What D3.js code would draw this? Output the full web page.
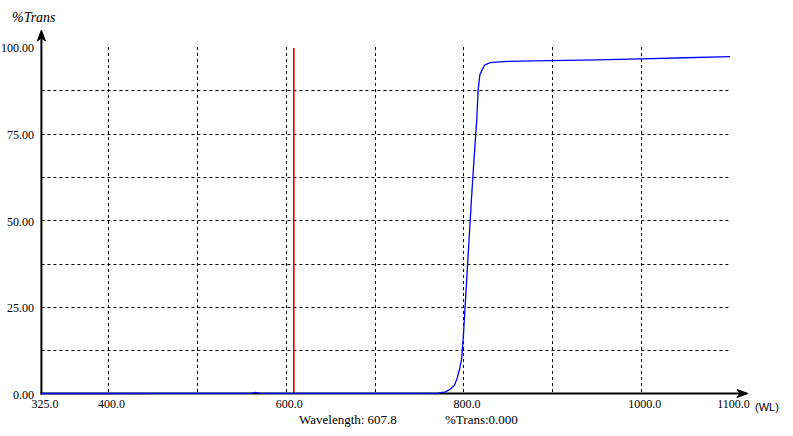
<!DOCTYPE html>
<html>
<head>
<meta charset="utf-8">
<script src="https://cdn.jsdelivr.net/npm/d3@7"></script>
<style>
  body { margin: 0; background: #fff; }
  svg { display: block; }
</style>
</head>
<body>
<script>
// spectrum, wavelength (nm) vs %Trans
var wavelengths = [325, 400, 460, 500, 560, 566, 572, 650, 700, 760, 771, 780, 785, 790, 793, 796, 798, 800, 803, 806, 809, 812, 815, 816.5, 818.5, 821, 824, 830, 845, 880, 950, 1000, 1050, 1100];
var transValues = [0.0, 0.0, 0.05, 0.05, 0.05, 0.3, 0.05, 0.05, 0.05, 0.05, 0.1, 0.5, 1.2, 2.4, 4.5, 7.4, 10, 17, 30, 43, 56, 68, 79, 87.5, 92, 93.4, 94.8, 95.5, 95.8, 96.0, 96.3, 96.6, 96.9, 97.2];

var xTickLabels = [325, 400, 600, 800, 1000, 1100];
var xGrid = [400, 500, 600, 700, 800, 900, 1000];
var yTickLabels = [0, 25, 50, 75, 100];
var yGrid = [12.5, 25, 37.5, 50, 62.5, 75, 87.5];
var cursorWL = 607.8;
var cursorTrans = 0.000;

var svgWidth = 793;
var svgHeight = 436;
var svg = d3.select("body").append("svg")
    .attr("width", svgWidth).attr("height", svgHeight);

var x = d3.scaleLinear().domain([325, 1100]).range([41.4, 730]);
var y = d3.scaleLinear().domain([0, 100]).range([393.5, 47]);

var serif = "'Liberation Serif', 'Times New Roman', serif";

// dashed grid
svg.append("g").selectAll("line.v").data(xGrid).enter()
    .append("line").attr("class", "v")
    .attr("x1", function (d) { return Math.round(x(d)) + 0.5; })
    .attr("x2", function (d) { return Math.round(x(d)) + 0.5; })
    .attr("y1", y(100)).attr("y2", y(0))
    .attr("stroke", "#000").attr("stroke-width", 1)
    .attr("stroke-dasharray", "3,3");

svg.append("g").selectAll("line.h").data(yGrid).enter()
    .append("line").attr("class", "h")
    .attr("x1", x(325)).attr("x2", x(1100))
    .attr("y1", function (d) { return Math.round(y(d)) + 0.5; })
    .attr("y2", function (d) { return Math.round(y(d)) + 0.5; })
    .attr("stroke", "#000").attr("stroke-width", 1)
    .attr("stroke-dasharray", "3,3");

// cursor line
svg.append("rect")
    .attr("x", Math.round(x(cursorWL))).attr("width", 1.6)
    .attr("y", y(100) + 1).attr("height", y(0) - y(100) - 1)
    .attr("fill", "#ff0000");

// axes lines with arrows
var x0 = x(325), yb = y(0);
svg.append("line").attr("x1", x0).attr("x2", x0).attr("y1", yb + 1).attr("y2", 33)
    .attr("stroke", "#000").attr("stroke-width", 2);
svg.append("path")
    .attr("d", "M" + x0 + ",30 L" + (x0 - 4) + ",41 L" + x0 + ",38 L" + (x0 + 4) + ",41 Z")
    .attr("fill", "#000").attr("stroke", "#000").attr("stroke-width", 1);
svg.append("line").attr("x1", x0 - 1).attr("x2", 745).attr("y1", yb).attr("y2", yb)
    .attr("stroke", "#000").attr("stroke-width", 2);
svg.append("path")
    .attr("d", "M748," + yb + " L737," + (yb - 4) + " L740," + yb + " L737," + (yb + 4) + " Z")
    .attr("fill", "#000").attr("stroke", "#000").attr("stroke-width", 1);

// curve
var line = d3.line()
    .x(function (d, i) { return x(wavelengths[i]); })
    .y(function (d) { return y(d); });
svg.append("path").datum(transValues)
    .attr("d", line)
    .attr("fill", "none").attr("stroke", "#0000ff").attr("stroke-width", 1.3);

// tick labels
var xAxis = d3.axisBottom(x).tickValues(xTickLabels).tickSize(0).tickPadding(0)
    .tickFormat(d3.format(".1f"));
var gx = svg.append("g").attr("transform", "translate(3," + (yb + 6) + ")").call(xAxis);
gx.select(".domain").remove();
gx.selectAll("text").attr("font-family", serif).attr("font-size", 12).attr("fill", "#000");

var yAxis = d3.axisLeft(y).tickValues(yTickLabels).tickSize(0).tickPadding(0)
    .tickFormat(d3.format(".2f"));
var gy = svg.append("g").attr("transform", "translate(34,1)").call(yAxis);
gy.select(".domain").remove();
gy.selectAll("text").attr("font-family", serif).attr("font-size", 12).attr("fill", "#000");

// titles
svg.append("text").attr("x", 12).attr("y", 22)
    .attr("font-family", serif).attr("font-style", "italic").attr("font-size", 14)
    .text("%Trans");
svg.append("text").attr("x", 755).attr("y", 411)
    .attr("font-family", "'Liberation Sans', Arial, sans-serif").attr("font-size", 11)
    .text("(WL)");

svg.append("text").attr("x", 299).attr("y", 424)
    .attr("font-family", serif).attr("font-size", 13)
    .text("Wavelength: " + d3.format(".1f")(cursorWL));
svg.append("text").attr("x", 445).attr("y", 424)
    .attr("font-family", serif).attr("font-size", 13)
    .text("%Trans:" + d3.format(".3f")(cursorTrans));
</script>
</body>
</html>
